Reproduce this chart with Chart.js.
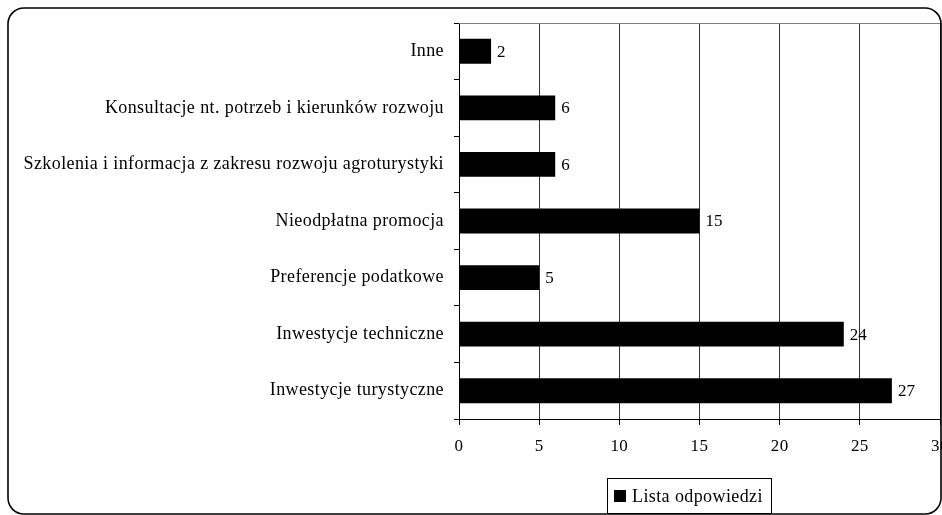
<!DOCTYPE html>
<html><head><meta charset="utf-8">
<script src="https://cdn.jsdelivr.net/npm/chart.js@4/dist/chart.umd.min.js"></script>
<style>html,body{margin:0;padding:0;background:#fff;}#c{display:block;}</style>
</head><body>
<canvas id="c" width="942" height="515"></canvas>
<script>
const categories = [
  "Inne",
  "Konsultacje nt. potrzeb i kierunków rozwoju",
  "Szkolenia i informacja z zakresu rozwoju agroturystyki",
  "Nieodpłatna promocja",
  "Preferencje podatkowe",
  "Inwestycje techniczne",
  "Inwestycje turystyczne"
];
const seriesName = "Lista odpowiedzi";
const values = [2, 6, 6, 15, 5, 24, 27];
const xTickValues = [0, 5, 10, 15, 20, 25, 30];

const FONT = "'Liberation Serif', 'Times New Roman', serif";
const FS = 18;
const FS_NUM = 17;
Chart.defaults.font.family = FONT;
Chart.defaults.font.size = FS;
Chart.defaults.color = '#000';

const decor = {
  id: 'decor',
  beforeDraw(chart) {
    const ctx = chart.ctx;
    ctx.fillStyle = '#fff';
    ctx.fillRect(0, 0, chart.width, chart.height);
    ctx.letterSpacing = '0.4px';
  },
  afterDraw(chart) {
    const ctx = chart.ctx;
    const ca = chart.chartArea;
    ctx.save();
    ctx.letterSpacing = '0px';
    // top border of plot
    ctx.strokeStyle = '#808080';
    ctx.lineWidth = 1;
    ctx.beginPath();
    ctx.moveTo(ca.left, Math.round(ca.top) + 0.5);
    ctx.lineTo(ca.right, Math.round(ca.top) + 0.5);
    ctx.stroke();
    // value labels
    const meta = chart.getDatasetMeta(0);
    ctx.fillStyle = '#000';
    ctx.font = FS_NUM + 'px ' + FONT;
    ctx.textAlign = 'left';
    ctx.textBaseline = 'middle';
    meta.data.forEach((bar, i) => {
      ctx.fillText(String(values[i]), bar.x + 6, bar.y + 1);
    });
    // legend
    const lx = 607, ly = 478, lw = 164, lh = 35;
    ctx.strokeStyle = '#000';
    ctx.lineWidth = 1;
    ctx.strokeRect(lx + 0.5, ly + 0.5, lw, lh);
    ctx.fillStyle = '#000';
    ctx.fillRect(614, 490, 12, 12);
    ctx.font = FS + 'px ' + FONT;
    ctx.letterSpacing = '0.4px';
    ctx.textBaseline = 'middle';
    ctx.fillText(seriesName, 632, 497);
    ctx.letterSpacing = '0px';
    // outer rounded frame
    ctx.lineWidth = 1.6;
    ctx.strokeStyle = '#000';
    ctx.beginPath();
    ctx.roundRect(8, 8, 933, 506, 16);
    ctx.stroke();
    ctx.restore();
  }
};

new Chart(document.getElementById('c'), {
  type: 'bar',
  data: {
    labels: categories,
    datasets: [{
      label: seriesName,
      data: values,
      backgroundColor: '#000',
      borderWidth: 0,
      barPercentage: 0.44,
      categoryPercentage: 1.0
    }]
  },
  options: {
    indexAxis: 'y',
    responsive: false,
    animation: false,
    devicePixelRatio: 1,
    layout: { padding: { top: 23, left: 0, right: 2, bottom: 52 } },
    plugins: { legend: { display: false }, tooltip: { enabled: false }, title: { display: false } },
    scales: {
      x: {
        type: 'linear',
        min: 0, max: 30,
        afterBuildTicks(scale) { scale.ticks = xTickValues.map(v => ({ value: v })); },
        afterFit(scale) { scale.height = 44; scale.paddingLeft = 0; scale.paddingRight = 0; },
        grid: { color: '#333', lineWidth: 1, drawOnChartArea: true, drawTicks: true, tickLength: 6, tickColor: '#000' },
        border: { display: true, color: '#000', width: 1 },
        ticks: { padding: 11, font: { size: FS_NUM }, color: '#000', maxRotation: 0 }
      },
      y: {
        type: 'category',
        afterFit(scale) { scale.width = 459; scale.paddingTop = 0; scale.paddingBottom = 0; },
        grid: { offset: true, drawOnChartArea: false, drawTicks: true, tickLength: 5, tickColor: '#000' },
        border: { display: true, color: '#000', width: 1 },
        ticks: { padding: 10, font: { size: FS }, color: '#000', autoSkip: false }
      }
    }
  },
  plugins: [decor]
});
</script>
</body></html>
